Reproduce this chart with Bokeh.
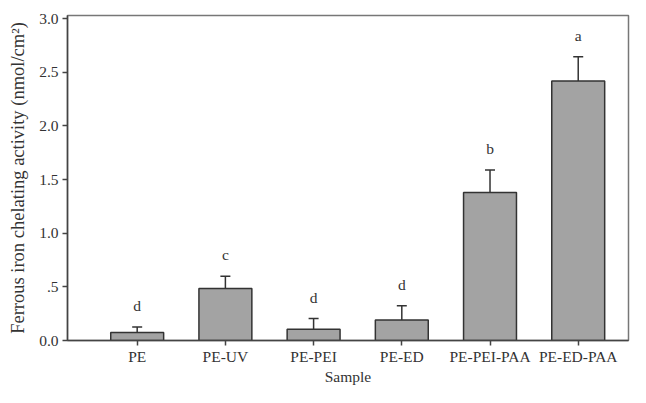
from bokeh.plotting import figure
from bokeh.models import ColumnDataSource, FixedTicker, Whisker, TeeHead, Range1d
from bokeh.core.properties import value
from bokeh.embed import file_html
from bokeh.resources import INLINE

samples = ["PE", "PE-UV", "PE-PEI", "PE-ED", "PE-PEI-PAA", "PE-ED-PAA"]
activity = [0.075, 0.485, 0.105, 0.19, 1.38, 2.42]
sd = [0.05, 0.115, 0.10, 0.135, 0.21, 0.225]
letters = ["d", "c", "d", "d", "b", "a"]

y_ticks = [0.0, 0.5, 1.0, 1.5, 2.0, 2.5, 3.0]
y_tick_labels = ["0.0", ".5", "1.0", "1.5", "2.0", "2.5", "3.0"]

xpos = list(range(len(samples)))
upper = [a + s for a, s in zip(activity, sd)]
letter_y = [u + 0.2 for u in upper]

src = ColumnDataSource(dict(x=xpos, top=activity, upper=upper, ly=letter_y, lab=letters))

FONT = "Liberation Serif"
p = figure(width=630, height=387, output_backend="svg", toolbar_location=None,
           x_range=Range1d(-0.79, 5.57), y_range=Range1d(0, 3.03),
           min_border_left=67, min_border_right=2, min_border_top=15, min_border_bottom=38)

p.vbar(x="x", top="top", width=0.6, source=src, fill_color="#a3a3a3",
       line_color="#333333", line_width=1.5)
w = Whisker(base="x", lower="top", upper="upper", source=src,
            line_color="#333333", line_width=1.5, lower_head=None,
            upper_head=TeeHead(size=10, line_color="#333333", line_width=1.5))
p.add_layout(w)
p.text(x="x", y="ly", text="lab", source=src, text_align="center",
       text_baseline="middle", text_font=value(FONT), text_font_size="15.5px",
       text_color="#333333")

p.xgrid.visible = False
p.ygrid.visible = False
p.outline_line_color = "#777777"
p.outline_line_width = 1.5

p.xaxis.ticker = FixedTicker(ticks=xpos)
p.xaxis.major_label_overrides = {i: s for i, s in zip(xpos, samples)}
p.yaxis.ticker = FixedTicker(ticks=y_ticks)
p.yaxis.major_label_overrides = {t: l for t, l in zip(y_ticks, y_tick_labels)}

for ax in (p.xaxis[0], p.yaxis[0]):
    ax.axis_line_color = "#444444"
    ax.axis_line_width = 1.5
    ax.major_tick_line_color = "#444444"
    ax.major_tick_line_width = 1.5
    ax.major_tick_out = 5
    ax.major_tick_in = 0
    ax.minor_tick_line_color = None
    ax.major_label_text_font = FONT
    ax.major_label_text_font_size = "15.5px"
    ax.major_label_text_color = "#333333"
    ax.axis_label_text_font = FONT
    ax.axis_label_text_font_size = "15.5px"
    ax.axis_label_text_font_style = "normal"
    ax.axis_label_text_color = "#333333"

p.xaxis.axis_label = "Sample"
p.xaxis.major_label_standoff = 2
p.xaxis.axis_label_standoff = 0
p.yaxis.axis_label = "Ferrous iron chelating activity (nmol/cm²)"
p.yaxis.axis_label_text_font_size = "18.5px"
p.yaxis.major_label_standoff = 4
p.yaxis.axis_label_standoff = 8

open("out.html", "w").write(file_html(p, INLINE))
